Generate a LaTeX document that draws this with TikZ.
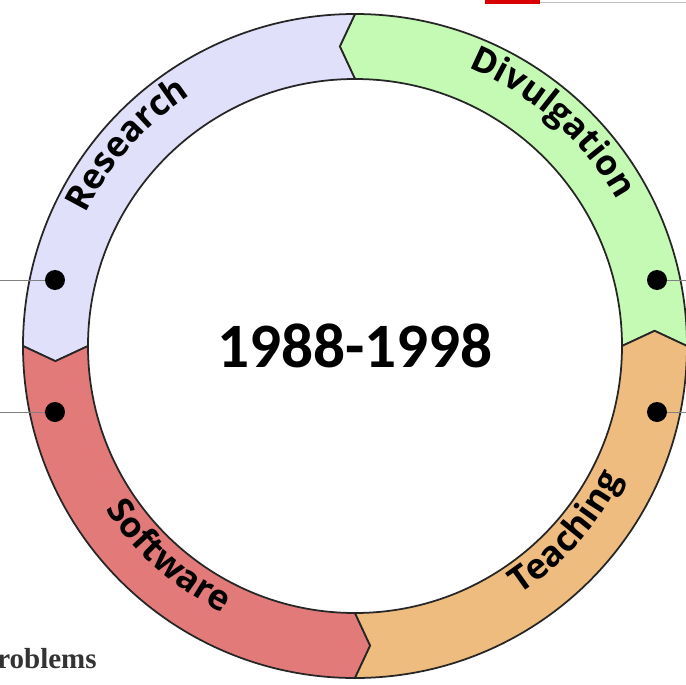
\documentclass[tikz,border=0pt]{standalone}
\usepackage{fontspec}
\usetikzlibrary{decorations.text}
\newfontfamily\segfont{Open Sans}
\newfontfamily\yearfont{Carlito}
\newfontfamily\slidefont{Liberation Serif}
\definecolor{rescol}{RGB}{224,224,250}
\definecolor{divcol}{RGB}{196,250,180}
\definecolor{softcol}{RGB}{226,122,122}
\definecolor{teachcol}{RGB}{238,188,126}
\newcommand{\seglabel}{\segfont\bfseries\fontsize{20}{24}\selectfont}

\begin{document}
\begin{tikzpicture}[x=0.02cm,y=0.02cm]
\tikzstyle{seg}=[draw=black!85,line width=1pt]
\tikzstyle{dot}=[circle,fill=black,inner sep=0pt,minimum size=0.4cm]
\tikzstyle{lead}=[gray,line width=0.5pt]

\useasboundingbox (-355,-338) rectangle (331,346);

\foreach \a/\col in {0/divcol,90/rescol,180/softcol,270/teachcol} {
  \draw[seg,fill=\col] (\a:267) -- ({\a+2.9}:300) -- (\a:332)
    arc[start angle=\a,end angle=\a+90,radius=332]
    -- ({\a+92.9}:300) -- ({\a+90}:267)
    arc[start angle=\a+90,end angle=\a,radius=267] -- cycle;
}

\path[decorate,decoration={text along path,text align=center,text={|\seglabel|Research}}]
  (178.5:300) arc[start angle=178.5,end angle=98.5,radius=300];
\path[decorate,decoration={text along path,text align=center,text={|\seglabel|Divulgation}}]
  (88.5:300) arc[start angle=88.5,end angle=8.5,radius=300];
\path[decorate,decoration={text along path,text align=center,text={|\seglabel|Software}}]
  (188.5:298) arc[start angle=188.5,end angle=268.5,radius=298];
\path[decorate,decoration={text along path,text align=center,text={|\seglabel|Teaching}}]
  (278.5:298) arc[start angle=278.5,end angle=358.5,radius=298];

\node (year) at (0,0) {\yearfont\bfseries\fontsize{36}{40}\selectfont 1988-1998};

\node[dot] (resdot) at (-300,66) {};
\node[dot] (softdot) at (-300,-66) {};
\node[dot] (divdot) at (302,66) {};
\node[dot] (teachdot) at (302,-66) {};
\coordinate (resend) at (-355,66);
\coordinate (softend) at (-355,-66);
\coordinate (divend) at (331,66);
\coordinate (teachend) at (331,-66);
\draw[lead] (resend) -- (resdot);
\draw[lead] (softend) -- (softdot);
\draw[lead] (divdot) -- (divend);
\draw[lead] (teachdot) -- (teachend);

\fill[red!85!black] (130,342) rectangle (185,346);
\draw[gray!50,line width=1pt] (185,343.5) -- (331,343.5);

\node[anchor=base west,inner sep=0pt,text=black!80] (probtext) at (-358,-322)
  {\slidefont\bfseries\fontsize{16.5}{18}\selectfont roblems};
\end{tikzpicture}
\end{document}
